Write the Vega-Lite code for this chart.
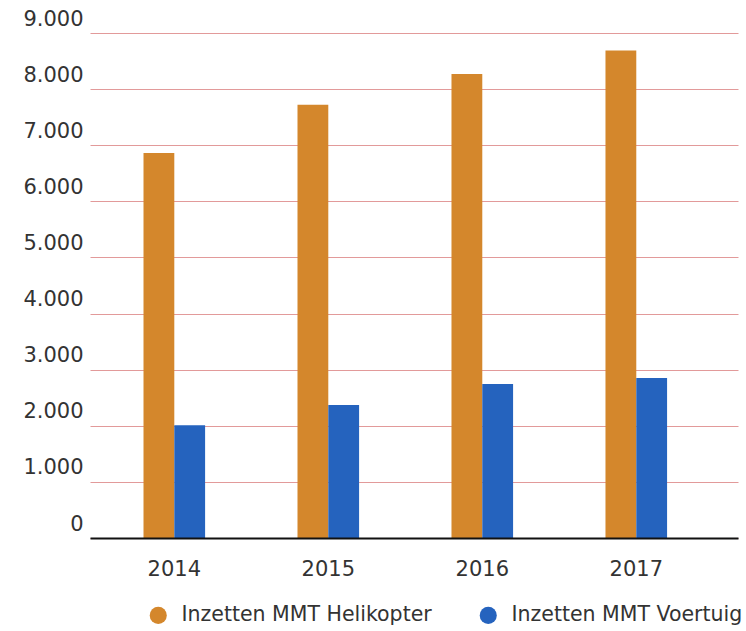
{
  "$schema": "https://vega.github.io/schema/vega-lite/v6.json",
  "width": 648,
  "height": 505,
  "autosize": {"type": "none"},
  "padding": {"left": 90, "top": 33, "right": 8, "bottom": 93},
  "background": "white",
  "data": {
    "values": [
      {"jaar": "2014", "serie": "Inzetten MMT Helikopter", "waarde": 6860},
      {"jaar": "2014", "serie": "Inzetten MMT Voertuig", "waarde": 2010},
      {"jaar": "2015", "serie": "Inzetten MMT Helikopter", "waarde": 7720},
      {"jaar": "2015", "serie": "Inzetten MMT Voertuig", "waarde": 2370},
      {"jaar": "2016", "serie": "Inzetten MMT Helikopter", "waarde": 8270},
      {"jaar": "2016", "serie": "Inzetten MMT Voertuig", "waarde": 2745},
      {"jaar": "2017", "serie": "Inzetten MMT Helikopter", "waarde": 8690},
      {"jaar": "2017", "serie": "Inzetten MMT Voertuig", "waarde": 2850}
    ]
  },
  "mark": {"type": "bar"},
  "encoding": {
    "x": {
      "field": "jaar",
      "type": "nominal",
      "scale": {"paddingInner": 0.6, "paddingOuter": 0.404, "align": 0.43},
      "axis": {
        "title": null,
        "labelAngle": 0,
        "ticks": false,
        "domainColor": "#111111",
        "domainWidth": 2,
        "labelPadding": 20,
        "labelFont": "DejaVu Sans",
        "labelFontSize": 21,
        "labelColor": "#333333",
        "zindex": 1
      }
    },
    "xOffset": {"field": "serie", "type": "nominal", "sort": ["Inzetten MMT Helikopter", "Inzetten MMT Voertuig"]},
    "y": {
      "field": "waarde",
      "type": "quantitative",
      "scale": {"domain": [0, 9000], "nice": false},
      "axis": {
        "title": null,
        "values": [0, 1000, 2000, 3000, 4000, 5000, 6000, 7000, 8000, 9000],
        "labelExpr": "replace(format(datum.value, ','), ',', '.')",
        "grid": true,
        "gridColor": "#e29a9a",
        "gridWidth": 1,
        "domain": false,
        "ticks": false,
        "labelPadding": 7,
        "labelOffset": -14,
        "labelFont": "DejaVu Sans",
        "labelFontSize": 21,
        "labelColor": "#333333"
      }
    },
    "color": {
      "field": "serie",
      "type": "nominal",
      "scale": {"domain": ["Inzetten MMT Helikopter", "Inzetten MMT Voertuig"], "range": ["#d4872c", "#2563be"]},
      "legend": {
        "title": null,
        "orient": "none",
        "direction": "horizontal",
        "legendX": 58,
        "legendY": 572,
        "symbolType": "circle",
        "symbolSize": 290,
        "symbolStrokeWidth": 0,
        "labelFont": "DejaVu Sans",
        "labelFontSize": 20.5,
        "labelColor": "#333333",
        "labelOffset": 13,
        "columnPadding": 46,
        "labelLimit": 400
      }
    }
  },
  "config": {"view": {"stroke": null}}
}
